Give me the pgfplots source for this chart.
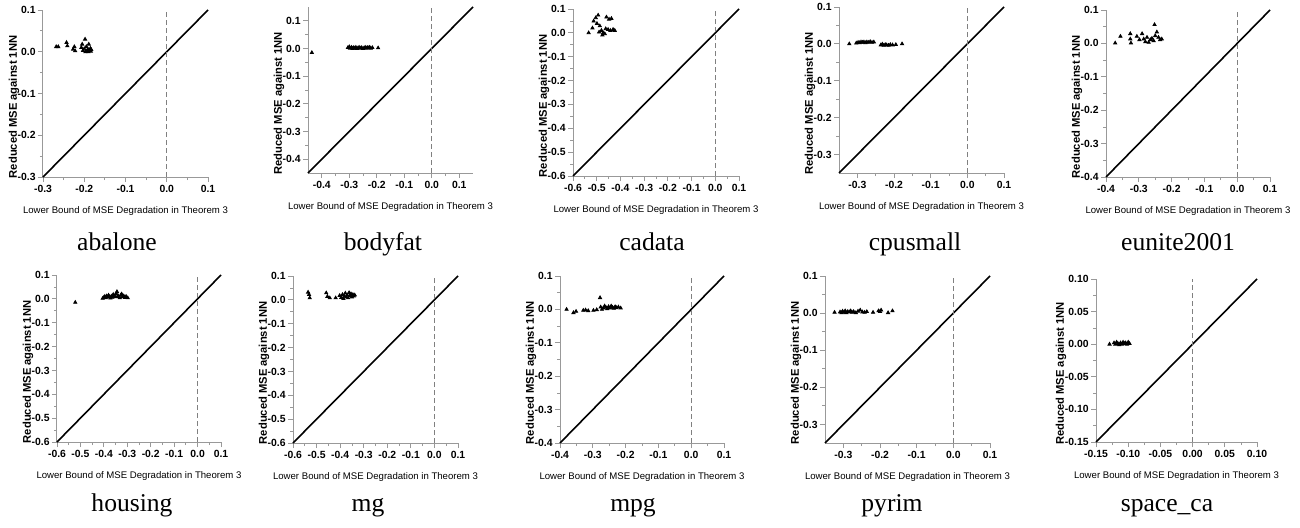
\documentclass[border=0pt]{standalone}
\usepackage{fontspec}
\setmainfont{Liberation Sans}
\newfontfamily\capfont{Liberation Serif}
\usepackage{pgfplots}
\pgfplotsset{compat=1.18}

\pgfplotsset{
  panel/.style={
    scale only axis,
    axis lines*=left,
    axis line style={-, gray!80, line width=0.5pt},
    tick style={gray!80, line width=0.4pt},
    tick align=outside,
    major tick length=2.5pt,
    minor tick length=1.5pt,
    minor tick num=1,
    tick label style={font=\fontsize{5.2}{6}\selectfont\bfseries},
    yticklabel style={inner sep=0pt, xshift=-1pt},
    xticklabel style={inner sep=0pt, yshift=-1.5pt},
    /pgf/number format/assume math mode=true,
    /pgf/number format/fixed,
    /pgf/number format/fixed zerofill,
    /pgf/number format/precision=1,
    every axis x label/.style={at={(axis description cs:0.5,0)}, anchor=north, yshift=-14.5pt, inner sep=0pt, font=\fontsize{4.8}{6}\selectfont},
    ylabshift/.initial=-14.5pt,
    every axis y label/.style={at={(axis description cs:0,0.42)}, xshift=\pgfkeysvalueof{/pgfplots/ylabshift}, rotate=90, anchor=center, inner sep=0pt, font=\fontsize{5.6}{6}\selectfont\bfseries},
    xlabel={Lower Bound of MSE Degradation in Theorem 3},
    ylabel={Reduced MSE against 1NN},
    clip=false,
  },
  diag/.style={black, line width=0.8pt},
  vdash/.style={gray, line width=0.5pt, dash pattern=on 2.5pt off 1.5pt},
  pts/.style={only marks, mark=triangle*, mark size=0.9pt, black},
}

\begin{document}
\begin{tikzpicture}[x=0.5pt, y=0.5pt]
\path[use as bounding box] (0,0) rectangle (1300,527);

% abalone
\begin{axis}[panel, at={(21.5pt,175pt)}, anchor=south west, width=82.5pt, height=83.5pt,
  xmin=-0.3, xmax=0.1, ymin=-0.3, ymax=0.1,
  xtick={-0.3,-0.2,-0.1,0,0.1}, ytick={-0.3,-0.2,-0.1,0,0.1}]
\addplot[diag] coordinates {(-0.3,-0.3) (0.1,0.1)};
\addplot[vdash] coordinates {(0,-0.3) (0,0.1)};
\addplot[pts] coordinates {
(-0.268,0.012) (-0.263,0.012) (-0.243,0.022) (-0.241,0.014) (-0.227,0.006)
(-0.224,0.012) (-0.222,0.002) (-0.207,0.010) (-0.205,0.018) (-0.203,0.003)
(-0.200,0.007) (-0.198,0.030) (-0.197,0.000) (-0.195,0.012) (-0.193,0.002)
(-0.191,0.006) (-0.190,0.000) (-0.189,0.018) (-0.187,0.003) (-0.185,0.008)
(-0.184,0.001) (-0.183,0.005)};
\end{axis}

% bodyfat
\begin{axis}[panel, at={(154pt,177pt)}, anchor=south west, width=82.5pt, height=83pt,
  xmin=-0.45, xmax=0.15, ymin=-0.45, ymax=0.15,
  xtick={-0.4,-0.3,-0.2,-0.1,0,0.1}, ytick={-0.4,-0.3,-0.2,-0.1,0,0.1}]
\addplot[diag] coordinates {(-0.45,-0.45) (0.15,0.15)};
\addplot[vdash] coordinates {(0,-0.45) (0,0.15)};
\addplot[pts] coordinates {
(-0.436,-0.015) (-0.305,0.003) (-0.300,0.006) (-0.297,0.001) (-0.292,0.004)
(-0.288,0.000) (-0.284,0.003) (-0.280,0.001) (-0.276,0.004) (-0.272,0.000)
(-0.268,0.002) (-0.264,0.004) (-0.260,0.001) (-0.255,0.003) (-0.250,0.000)
(-0.246,0.002) (-0.242,0.004) (-0.238,0.001) (-0.234,0.003) (-0.230,0.002)
(-0.226,0.004) (-0.222,0.001) (-0.216,0.003) (-0.195,0.002)};
\end{axis}

% cadata
\begin{axis}[panel, at={(286.5pt,175.5pt)}, anchor=south west, width=83pt, height=83.5pt,
  xmin=-0.6, xmax=0.1, ymin=-0.6, ymax=0.1,
  xtick={-0.6,-0.5,-0.4,-0.3,-0.2,-0.1,0,0.1}, ytick={-0.6,-0.5,-0.4,-0.3,-0.2,-0.1,0,0.1}]
\addplot[diag] coordinates {(-0.6,-0.6) (0.1,0.1)};
\addplot[vdash] coordinates {(0,-0.6) (0,0.1)};
\addplot[pts] coordinates {
(-0.534,0.000) (-0.518,0.020) (-0.513,0.049) (-0.504,0.063) (-0.494,0.074)
(-0.499,0.039) (-0.487,0.029) (-0.490,0.003) (-0.480,0.010) (-0.473,0.000)
(-0.459,0.066) (-0.448,0.057) (-0.438,0.060) (-0.462,0.017) (-0.452,0.014)
(-0.442,0.010) (-0.431,0.014) (-0.424,0.010) (-0.466,-0.004) (-0.476,-0.009)};
\end{axis}

% cpusmall
\begin{axis}[panel, at={(419.5pt,177pt)}, anchor=south west, width=82.5pt, height=83pt,
  xmin=-0.35, xmax=0.1, ymin=-0.35, ymax=0.1,
  xtick={-0.3,-0.2,-0.1,0,0.1}, ytick={-0.3,-0.2,-0.1,0,0.1}]
\addplot[diag] coordinates {(-0.35,-0.35) (0.1,0.1)};
\addplot[vdash] coordinates {(0,-0.35) (0,0.1)};
\addplot[pts] coordinates {
(-0.322,0.000) (-0.303,0.002) (-0.298,0.004) (-0.294,0.003) (-0.290,0.005)
(-0.286,0.004) (-0.282,0.005) (-0.278,0.003) (-0.274,0.005) (-0.270,0.004)
(-0.265,0.006) (-0.260,0.004) (-0.255,0.005) (-0.236,-0.003) (-0.232,-0.001)
(-0.228,-0.004) (-0.224,-0.002) (-0.220,-0.003) (-0.215,-0.004) (-0.210,-0.002)
(-0.204,-0.003) (-0.195,-0.002) (-0.178,0.000)};
\end{axis}

% eunite2001
\begin{axis}[panel, at={(553pt,175pt)}, anchor=south west, width=82pt, height=83.5pt,
  xmin=-0.4, xmax=0.1, ymin=-0.4, ymax=0.1,
  xtick={-0.4,-0.3,-0.2,-0.1,0,0.1}, ytick={-0.4,-0.3,-0.2,-0.1,0,0.1}]
\addplot[diag] coordinates {(-0.4,-0.4) (0.1,0.1)};
\addplot[vdash] coordinates {(0,-0.4) (0,0.1)};
\addplot[pts] coordinates {
(-0.372,0.001) (-0.356,0.021) (-0.326,0.029) (-0.326,0.013) (-0.324,0.001)
(-0.306,0.021) (-0.298,0.011) (-0.290,0.029) (-0.285,0.013) (-0.280,0.005)
(-0.275,0.018) (-0.270,0.003) (-0.265,0.011) (-0.260,0.015) (-0.255,0.008)
(-0.250,0.023) (-0.252,0.056) (-0.245,0.034) (-0.240,0.018) (-0.235,0.011)
(-0.230,0.013)};
\end{axis}

% housing
\begin{axis}[panel, at={(28.5pt,42.5pt)}, anchor=south west, width=82pt, height=83.5pt,
  xmin=-0.6, xmax=0.1, ymin=-0.6, ymax=0.1,
  xtick={-0.6,-0.5,-0.4,-0.3,-0.2,-0.1,0,0.1}, ytick={-0.6,-0.5,-0.4,-0.3,-0.2,-0.1,0,0.1}]
\addplot[diag] coordinates {(-0.6,-0.6) (0.1,0.1)};
\addplot[vdash] coordinates {(0,-0.6) (0,0.1)};
\addplot[pts] coordinates {
(-0.522,-0.015) (-0.405,0.002) (-0.400,0.006) (-0.396,0.010) (-0.392,0.004)
(-0.388,0.012) (-0.384,0.007) (-0.380,0.015) (-0.376,0.009) (-0.372,0.003)
(-0.368,0.011) (-0.364,0.006) (-0.360,0.018) (-0.356,0.012) (-0.352,0.008)
(-0.348,0.022) (-0.344,0.030) (-0.340,0.014) (-0.336,0.009) (-0.332,0.004)
(-0.328,0.015) (-0.324,0.020) (-0.320,0.008) (-0.315,0.012) (-0.310,0.005)
(-0.305,0.010) (-0.298,0.004)};
\end{axis}

% mg
\begin{axis}[panel, at={(146.5pt,42pt)}, anchor=south west, width=82.5pt, height=83.5pt,
  xmin=-0.6, xmax=0.1, ymin=-0.6, ymax=0.1,
  xtick={-0.6,-0.5,-0.4,-0.3,-0.2,-0.1,0,0.1}, ytick={-0.6,-0.5,-0.4,-0.3,-0.2,-0.1,0,0.1}]
\addplot[diag] coordinates {(-0.6,-0.6) (0.1,0.1)};
\addplot[vdash] coordinates {(0,-0.6) (0,0.1)};
\addplot[pts] coordinates {
(-0.536,0.032) (-0.532,0.022) (-0.529,0.008) (-0.459,0.029) (-0.454,0.014)
(-0.444,0.008) (-0.419,0.008) (-0.402,0.018) (-0.395,0.010) (-0.390,0.022)
(-0.386,0.005) (-0.382,0.015) (-0.378,0.028) (-0.374,0.012) (-0.370,0.020)
(-0.366,0.008) (-0.362,0.030) (-0.358,0.018) (-0.354,0.025) (-0.350,0.012)
(-0.346,0.022) (-0.342,0.016) (-0.338,0.020)};
\end{axis}

% mpg
\begin{axis}[panel, at={(280pt,42pt)}, anchor=south west, width=82pt, height=83.5pt,
  xmin=-0.4, xmax=0.1, ymin=-0.4, ymax=0.1,
  xtick={-0.4,-0.3,-0.2,-0.1,0,0.1}, ytick={-0.4,-0.3,-0.2,-0.1,0,0.1}]
\addplot[diag] coordinates {(-0.4,-0.4) (0.1,0.1)};
\addplot[vdash] coordinates {(0,-0.4) (0,0.1)};
\addplot[pts] coordinates {
(-0.380,0.000) (-0.359,-0.010) (-0.351,-0.006) (-0.329,-0.003) (-0.322,-0.002)
(-0.314,-0.004) (-0.298,-0.003) (-0.288,-0.001) (-0.278,0.035) (-0.276,0.007)
(-0.272,0.000) (-0.268,0.004) (-0.264,0.010) (-0.260,0.006) (-0.256,0.002)
(-0.252,0.008) (-0.248,0.004) (-0.244,0.010) (-0.240,0.006) (-0.236,0.003)
(-0.232,0.008) (-0.228,0.005) (-0.222,0.007) (-0.215,0.004)};
\end{axis}

% pyrim
\begin{axis}[panel, at={(412.5pt,42pt)}, anchor=south west, width=82.5pt, height=83.5pt,
  xmin=-0.35, xmax=0.1, ymin=-0.35, ymax=0.1,
  xtick={-0.3,-0.2,-0.1,0,0.1}, ytick={-0.3,-0.2,-0.1,0,0.1}]
\addplot[diag] coordinates {(-0.35,-0.35) (0.1,0.1)};
\addplot[vdash] coordinates {(0,-0.35) (0,0.1)};
\addplot[pts] coordinates {
(-0.324,0.002) (-0.309,0.003) (-0.305,0.001) (-0.302,0.005) (-0.298,0.002)
(-0.295,0.006) (-0.292,0.001) (-0.288,0.004) (-0.284,0.003) (-0.280,0.006)
(-0.276,0.002) (-0.272,0.004) (-0.266,0.001) (-0.260,0.005) (-0.254,0.008)
(-0.248,0.003) (-0.242,0.002) (-0.236,0.004) (-0.219,0.002) (-0.204,0.006)
(-0.200,0.004) (-0.197,0.008) (-0.178,0.001) (-0.166,0.006)};
\end{axis}

% space_ca
\begin{axis}[panel, ylabshift=-17.5pt, at={(548pt,42.5pt)}, anchor=south west, width=80.5pt, height=81.5pt,
  xmin=-0.15, xmax=0.1, ymin=-0.15, ymax=0.1,
  /pgf/number format/precision=2,
  xtick={-0.15,-0.1,-0.05,0,0.05,0.1}, ytick={-0.15,-0.1,-0.05,0,0.05,0.1}]
\addplot[diag] coordinates {(-0.15,-0.15) (0.1,0.1)};
\addplot[vdash] coordinates {(0,-0.15) (0,0.1)};
\addplot[pts] coordinates {
(-0.129,0.000) (-0.122,0.002) (-0.120,0.000) (-0.118,0.003) (-0.116,0.001)
(-0.114,-0.001) (-0.112,0.002) (-0.110,0.000) (-0.108,0.003) (-0.106,0.001)
(-0.104,0.002) (-0.102,0.000) (-0.100,0.003) (-0.098,0.001)};
\end{axis}

% captions
\begin{scope}[every node/.style={anchor=base, inner sep=0pt, font=\capfont\fontsize{12.8}{14}\selectfont}]
\node at (117,{527-250}) {abalone};
\node at (383,{527-250}) {bodyfat};
\node at (652,{527-250}) {cadata};
\node at (915,{527-250}) {cpusmall};
\node at (1178,{527-250}) {eunite2001};
\node at (132,{527-511}) {housing};
\node at (368,{527-511}) {mg};
\node at (633,{527-511}) {mpg};
\node at (892,{527-511}) {pyrim};
\node at (1167,{527-511}) {space\_ca};
\end{scope}
\end{tikzpicture}
\end{document}
